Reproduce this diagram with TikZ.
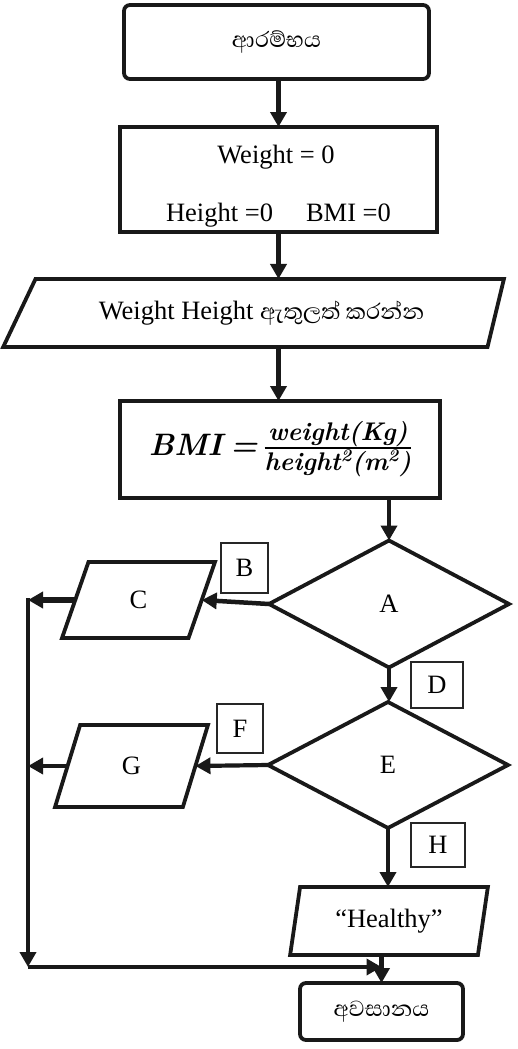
\documentclass[tikz,border=0pt]{standalone}
\usepackage{fontspec}
\setmainfont{Liberation Serif}
\newfontfamily\sinhfont[Script=Sinhala]{Abhaya Libre}
\newfontfamily\lmbi{lmroman10-bolditalic.otf}
\usetikzlibrary{shapes.geometric,arrows.meta}
\newcommand{\bmiformula}{{\lmbi\fontsize{31}{35}\selectfont BMI\hspace{8pt}=\hspace{7pt}}{\lmbi\fontsize{25.5}{28}\selectfont\setlength{\arrayrulewidth}{1.8pt}\begin{tabular}{@{}c@{}}weight(Kg)\\[-1pt]\hline height\textsuperscript{2}(m\textsuperscript{2})\end{tabular}}}
\begin{document}
\begin{tikzpicture}[x=1pt,y=-1pt,
  every node/.style={inner sep=0pt,outer sep=0pt,font=\fontsize{26.5}{30}\selectfont},
  shp/.style={draw=black!90,line width=3.8pt},
  term/.style={shp,rectangle,rounded corners=6pt},
  procbox/.style={shp,rectangle},
  io/.style={shp,trapezium,trapezium stretches=true},
  dec/.style={shp,diamond},
  tag/.style={draw=black!85,line width=1.8pt,rectangle},
  arr/.style={draw=black!90,line width=4.2pt,-{Triangle[length=15pt,width=16pt]}},
]
\useasboundingbox (0,0) rectangle (517,1049);

\node[term, minimum width=305pt, minimum height=74pt] (start) at (276.5,42) {\sinhfont\fontsize{28}{32}\selectfont ආරම්භය};

\node[procbox, minimum width=317pt, minimum height=105pt] (init) at (278.5,179.5) {};
\node (initA) at (276,157) {Weight = 0};
\node (initB) at (278.5,215) {Height =0\hspace{33pt}BMI =0};

\node[io, trapezium left angle=46.3, trapezium right angle=115.9, minimum width=503pt, minimum height=68pt] (inp) at (261.5,313) {Weight Height {\sinhfont\fontsize{28.5}{32}\selectfont ඇතුලත් කරන්න}};

\node[procbox, minimum width=320pt, minimum height=97pt] (bmi) at (280,449.5) {\bmiformula};

\node[dec, minimum width=240pt, minimum height=127pt] (A) at (389,604) {A};
\node[io, trapezium left angle=75.3, trapezium right angle=104.7, minimum width=153pt, minimum height=76pt] (C) at (138.5,600) {C};
\node[tag, minimum width=47pt, minimum height=50pt] (B) at (244.5,568) {B};
\node[tag, minimum width=52pt, minimum height=46pt] (D) at (437,685) {D};

\node[dec, minimum width=240pt, minimum height=126pt] (E) at (388,765) {E};
\node[io, trapezium left angle=75.3, trapezium right angle=104.7, minimum width=153pt, minimum height=82pt] (G) at (131.5,766) {G};
\node[tag, minimum width=46pt, minimum height=49pt] (F) at (240,728.5) {F};
\node[tag, minimum width=54pt, minimum height=44pt] (H) at (438,845) {H};

\node[io, trapezium left angle=76, trapezium right angle=104, minimum width=198pt, minimum height=68pt] (healthy) at (389,921) {“Healthy”};

\node[term, minimum width=163pt, minimum height=57pt] (stop) at (381.5,1011.5) {\sinhfont\fontsize{28}{32}\selectfont අවසානය};

\coordinate (Ltop) at (28,598);
\coordinate (Lbot) at (28,967);

\draw[arr] (start.south -| init.north) -- (init.north);
\draw[arr] (init.south) -- (init.south |- inp.north);
\draw[arr] (init.south |- inp.south) -- (init.south |- bmi.north);
\draw[arr] (A.north |- bmi.south) -- (A.north);
\draw[arr] (A.south) -- (A.south |- E.north);
\draw[arr] (E.south) -- (E.south |- healthy.north);
\draw[arr] (stop.north |- healthy.south) -- (stop.north);
\draw[arr, line width=4.5pt] (A.west) -- (C.east);
\draw[arr, line width=5.5pt] (C.west) -- (C.west -| Ltop);
\draw[arr] (E.west) -- (G.east);
\draw[arr, line width=3.5pt] (G.west) -- (G.west -| Ltop);
\draw[arr] (Ltop) -- (Lbot);
\draw[arr] (Lbot) -- (Lbot -| stop.north);
\end{tikzpicture}
\end{document}
